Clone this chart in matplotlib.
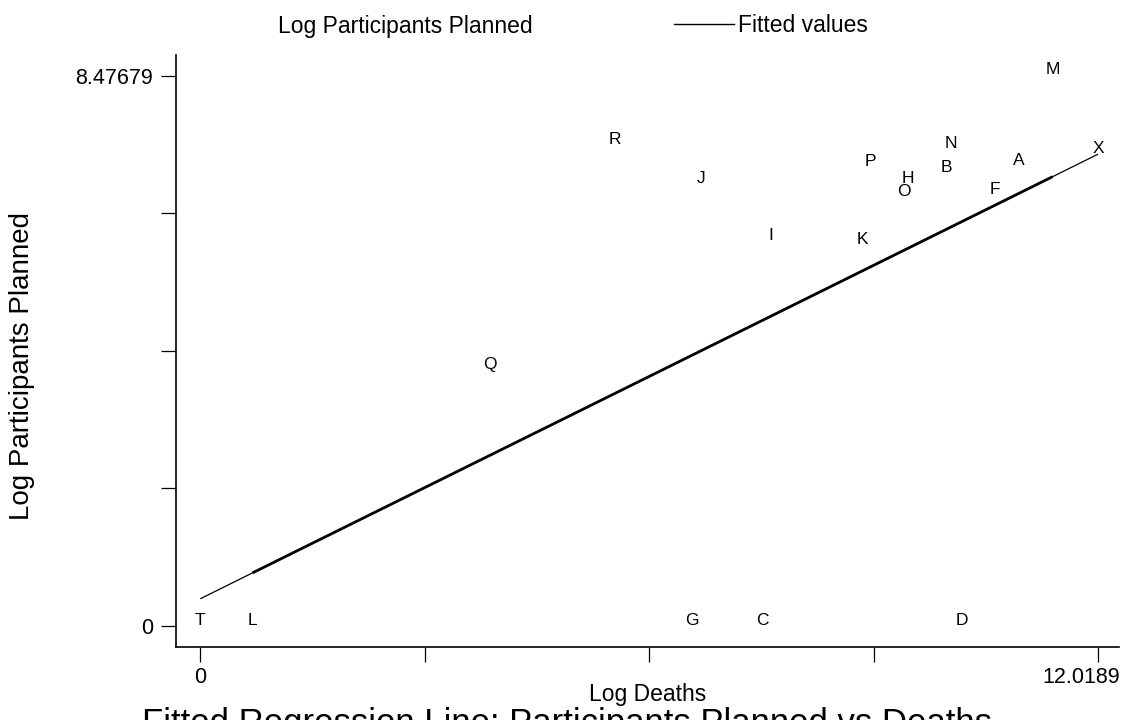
import matplotlib
matplotlib.use('Agg')
import matplotlib.pyplot as plt
import matplotlib.transforms as mtransforms
import numpy as np
from matplotlib.lines import Line2D

# ---- data ----
labels = ['A', 'B', 'C', 'D', 'F', 'G', 'H', 'I', 'J', 'K',
          'L', 'M', 'N', 'O', 'P', 'Q', 'R', 'T', 'X']
log_deaths = [10.96, 9.99, 7.53, 10.20, 10.63, 6.58, 9.47, 7.64, 6.71, 8.86,
              0.70, 11.41, 10.05, 9.42, 8.97, 3.88, 5.55, 0.0, 12.0189]
log_participants = [7.08, 6.98, 0.0, 0.0, 6.63, 0.0, 6.80, 5.92, 6.80, 5.86,
                    0.0, 8.47679, 7.35, 6.61, 7.07, 3.94, 7.40, 0.0, 7.27]
fit_intercept = 0.42
fit_slope = 0.570
x_max = 12.0189
y_max = 8.47679
x_ticklabels = ['0', '', '', '', '12.0189']
y_ticklabels = ['0', '', '', '', '8.47679']

plt.rcParams['font.family'] = ['Liberation Sans', 'DejaVu Sans']

W, H = 1134, 720
fig = plt.figure(figsize=(W / 100, H / 100), dpi=100)
left_px, right_px, top_px, bottom_px = 176.3, 1119, 55, 647.3
ax = fig.add_axes([left_px / W, 1 - bottom_px / H,
                   (right_px - left_px) / W, (bottom_px - top_px) / H])

# marker labels (no markers)
for lab, x, y in zip(labels, log_deaths, log_participants):
    ax.annotate(lab, (x, y), xytext=(0, 4.3), textcoords='offset points',
                ha='center', va='center', fontsize=12.5, color='black')

# fitted line
xs = np.sort(np.array(log_deaths))
fitted = fit_intercept + fit_slope * xs
ax.plot(xs, fitted, color='black', lw=0.9, solid_capstyle='butt')
ax.plot(xs[1:-1], fitted[1:-1], color='black', lw=2.0, solid_capstyle='butt')

ax.set_xlim(-0.321, 12.298)
ax.set_ylim(-0.328, 8.798)

ax.set_xticks(np.linspace(0, x_max, 5))
ax.set_xticklabels(x_ticklabels)
ax.set_yticks(np.linspace(0, y_max, 5))
ax.set_yticklabels(y_ticklabels)

for s in ['top', 'right']:
    ax.spines[s].set_visible(False)
for s in ['left', 'bottom']:
    ax.spines[s].set_linewidth(1.2)
    ax.spines[s].set_color('black')

ax.tick_params(axis='both', direction='out', length=10.8, width=0.9,
               colors='black', labelsize=15.5)
ax.tick_params(axis='x', pad=3.6)
ax.tick_params(axis='y', pad=6)

# last x tick label is shifted left to stay inside the figure (as in reference)
last = ax.get_xticklabels()[-1]
last.set_transform(last.get_transform() +
                   mtransforms.ScaledTranslation(-16.5 / 100, 0, fig.dpi_scale_trans))

ax.set_xlabel('Log Deaths', fontsize=16.5)
ax.xaxis.label.set_va('baseline')
ax.xaxis.set_label_coords(0.5, -(701 - bottom_px) / (bottom_px - top_px))

ax.set_ylabel('Log Participants Planned', fontsize=20)
ax.yaxis.label.set_va('center')
ax.yaxis.label.set_ha('center')
ax.yaxis.set_label_coords((22 - left_px) / (right_px - left_px),
                          (bottom_px - 365.5) / (bottom_px - top_px))

# legend
h1 = Line2D([], [], linestyle='none', marker=None)
h2 = Line2D([], [], color='black', lw=1.0)
fig.legend([h1, h2], ['Log Participants Planned', 'Fitted values'],
           loc='center', bbox_to_anchor=(541 / W, 1 - 26 / H), ncol=2,
           frameon=False, fontsize=16.5, handlelength=2.6, handletextpad=0.18,
           columnspacing=6.2, borderpad=0, borderaxespad=0)

# title (partially cut off at the bottom, as in the reference)
fig.text(0.5, (H - 733) / H, 'Fitted Regression Line: Participants Planned vs Deaths',
         ha='center', va='baseline', fontsize=25)

fig.savefig('out.png', dpi=100)
